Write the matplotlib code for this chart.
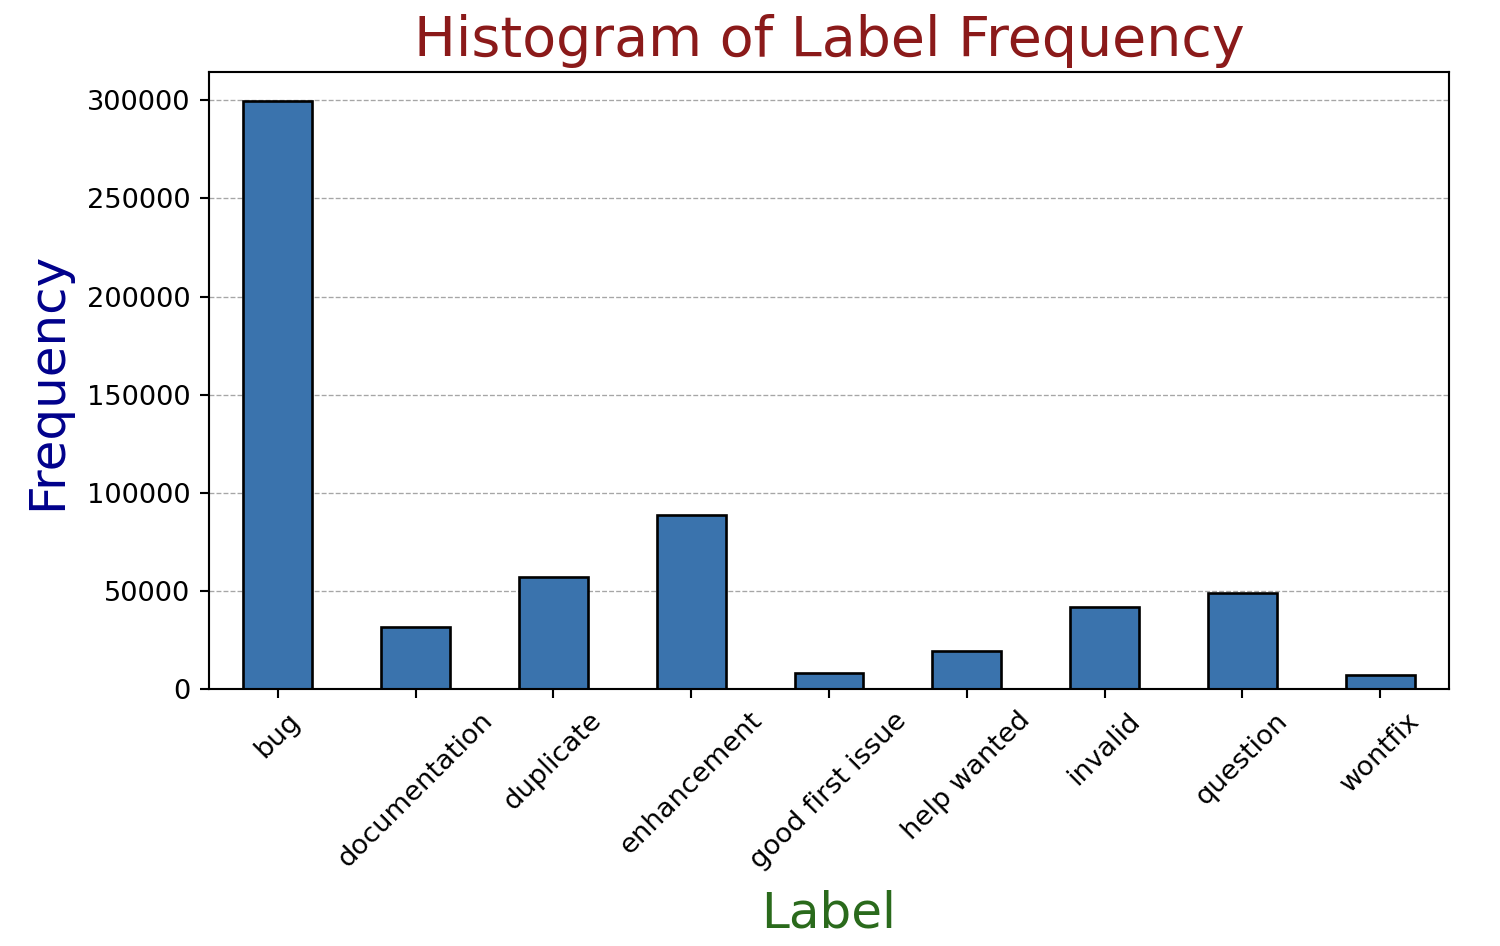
import numpy as np
import matplotlib
matplotlib.use("Agg")
import matplotlib.pyplot as plt

# label counts
labels = ["bug", "documentation", "duplicate", "enhancement", "good first issue",
          "help wanted", "invalid", "question", "wontfix"]
counts = [299500, 31500, 57000, 88500, 8200, 19400, 41800, 48900, 7100]

s = 1.27  # scale factor relative to default sizes

fig = plt.figure(figsize=(10, 946 / 150), dpi=150)
ax = fig.add_axes([209 / 1500, 1 - 689 / 946, 1240 / 1500, 617 / 946])

x = np.arange(len(labels))
ax.bar(x, counts, width=0.5, color="#3a73ad", edgecolor="black", linewidth=1.0 * s, zorder=2)
ax.set_xlim(-0.5, len(labels) - 0.5)

ax.set_xticks(x)
ax.set_xticklabels(labels, rotation=45, ha="center")
ax.tick_params(labelsize=10.3 * s, length=3.5 * s, width=0.8 * s, pad=3.5 * s)
for sp in ax.spines.values():
    sp.set_linewidth(0.8 * s)

ax.yaxis.grid(True, linestyle="--", color="gray", alpha=0.7, linewidth=0.5 * s, zorder=0)
ax.set_axisbelow(True)

ax.set_title("Histogram of Label Frequency", fontsize=21 * s, color="#8b1a1a", pad=6 * s)
ax.set_xlabel("Label", fontsize=18.9 * s, color="#2a6a1c", labelpad=6 * s)
ax.set_ylabel("Frequency", fontsize=18.9 * s, color="darkblue", labelpad=6 * s)

fig.savefig("out.png", dpi=150)
